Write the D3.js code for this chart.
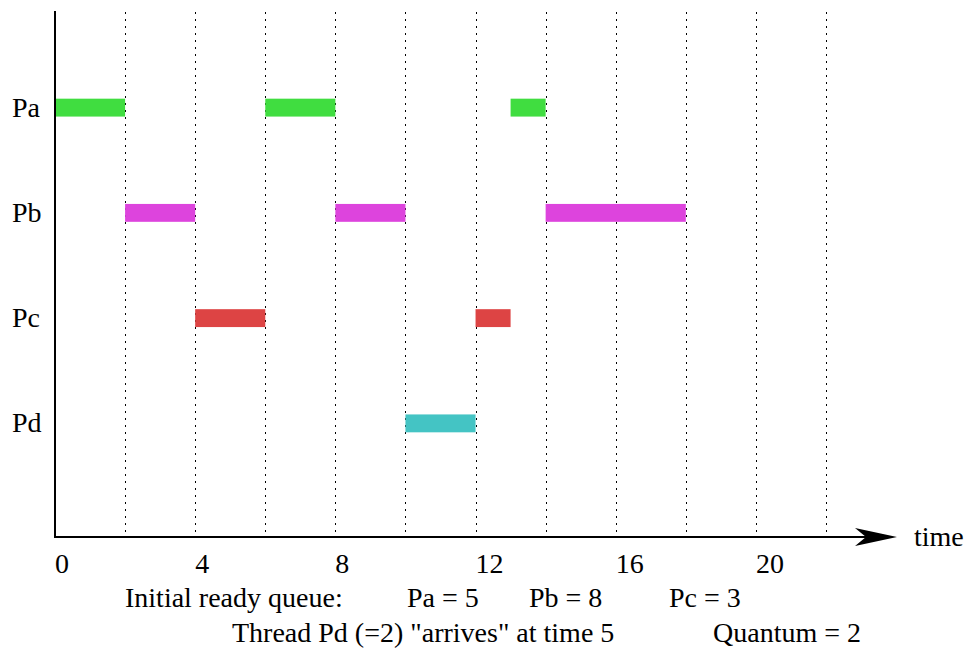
<!DOCTYPE html>
<html><head><meta charset="utf-8">
<script src="https://cdn.jsdelivr.net/npm/d3@7"></script>
<style>html,body{margin:0;padding:0;background:#fff;}svg{display:block;font-family:"Liberation Serif","Times New Roman",serif;}</style>
</head><body>
<svg id="chart" width="969" height="651"></svg>
<script>
const processes = ["Pa", "Pb", "Pc", "Pd"];
const colors = ["#40dd40", "#dd44dd", "#dd4444", "#44c4c4"];
const slices = [
  {p: "Pa", start: 0, end: 2},
  {p: "Pb", start: 2, end: 4},
  {p: "Pc", start: 4, end: 6},
  {p: "Pa", start: 6, end: 8},
  {p: "Pb", start: 8, end: 10},
  {p: "Pd", start: 10, end: 12},
  {p: "Pc", start: 12, end: 13},
  {p: "Pa", start: 13, end: 14},
  {p: "Pb", start: 14, end: 18}
];
const tickLabels = [0, 4, 8, 12, 16, 20];
const gridTimes = [2, 4, 6, 8, 10, 12, 14, 16, 18, 20, 22];
const axisLabel = "time";
const queueTitle = "Initial ready queue:";
const queueItems = ["Pa = 5", "Pb = 8", "Pc = 3"];
const noteLine = "Thread Pd (=2) \"arrives\" at time 5";
const quantumLine = "Quantum = 2";

const FS = 28;
const svg = d3.select("#chart");
const x = d3.scaleLinear().domain([0, 22]).range([55, 826]);
const y = d3.scaleBand().domain(processes).range([55, 476]).paddingInner(0.83).paddingOuter(0.415);
const color = d3.scaleOrdinal().domain(processes).range(colors);
const axisY = 537, topY = 11;

// gridlines
svg.append("g").selectAll("line").data(gridTimes).join("line")
  .attr("x1", d => Math.round(x(d)) + 0.5).attr("x2", d => Math.round(x(d)) + 0.5)
  .attr("y1", topY + 1).attr("y2", axisY)
  .attr("stroke", "#000").attr("stroke-width", 1).attr("stroke-dasharray", "2,5");

// bars
svg.append("g").selectAll("rect").data(slices).join("rect")
  .attr("x", d => x(d.start)).attr("width", d => x(d.end) - x(d.start))
  .attr("y", d => y(d.p)).attr("height", y.bandwidth())
  .attr("fill", d => color(d.p));

// y axis line
svg.append("line").attr("x1", x(0)).attr("x2", x(0)).attr("y1", topY).attr("y2", axisY + 1)
  .attr("stroke", "#000").attr("stroke-width", 2);
// x axis line
svg.append("line").attr("x1", x(0)).attr("x2", 880).attr("y1", axisY).attr("y2", axisY)
  .attr("stroke", "#000").attr("stroke-width", 2);
// arrow head
svg.append("path").attr("d", `M855,${axisY-9} L897,${axisY} L855,${axisY+9} L866,${axisY} Z`).attr("fill", "#000");

// axis label
svg.append("text").attr("x", 914).attr("y", axisY + 9).attr("font-size", FS).text(axisLabel);

// tick labels
svg.append("g").selectAll("text").data(tickLabels).join("text")
  .attr("x", d => x(d)).attr("y", 573).attr("font-size", FS).text(d => d);

// row labels
svg.append("g").selectAll("text").data(processes).join("text")
  .attr("x", 12).attr("y", d => y(d) + y.bandwidth() / 2 + 9).attr("font-size", FS).text(d => d);

// notes
svg.append("text").attr("x", 125).attr("y", 607).attr("font-size", FS).text(queueTitle);
const qx = [407, 529, 669];
svg.append("g").selectAll("text").data(queueItems).join("text")
  .attr("x", (d, i) => qx[i]).attr("y", 607).attr("font-size", FS).text(d => d);
svg.append("text").attr("x", 232).attr("y", 642).attr("font-size", FS).text(noteLine);
svg.append("text").attr("x", 713).attr("y", 642).attr("font-size", FS).text(quantumLine);
</script>
</body></html>
